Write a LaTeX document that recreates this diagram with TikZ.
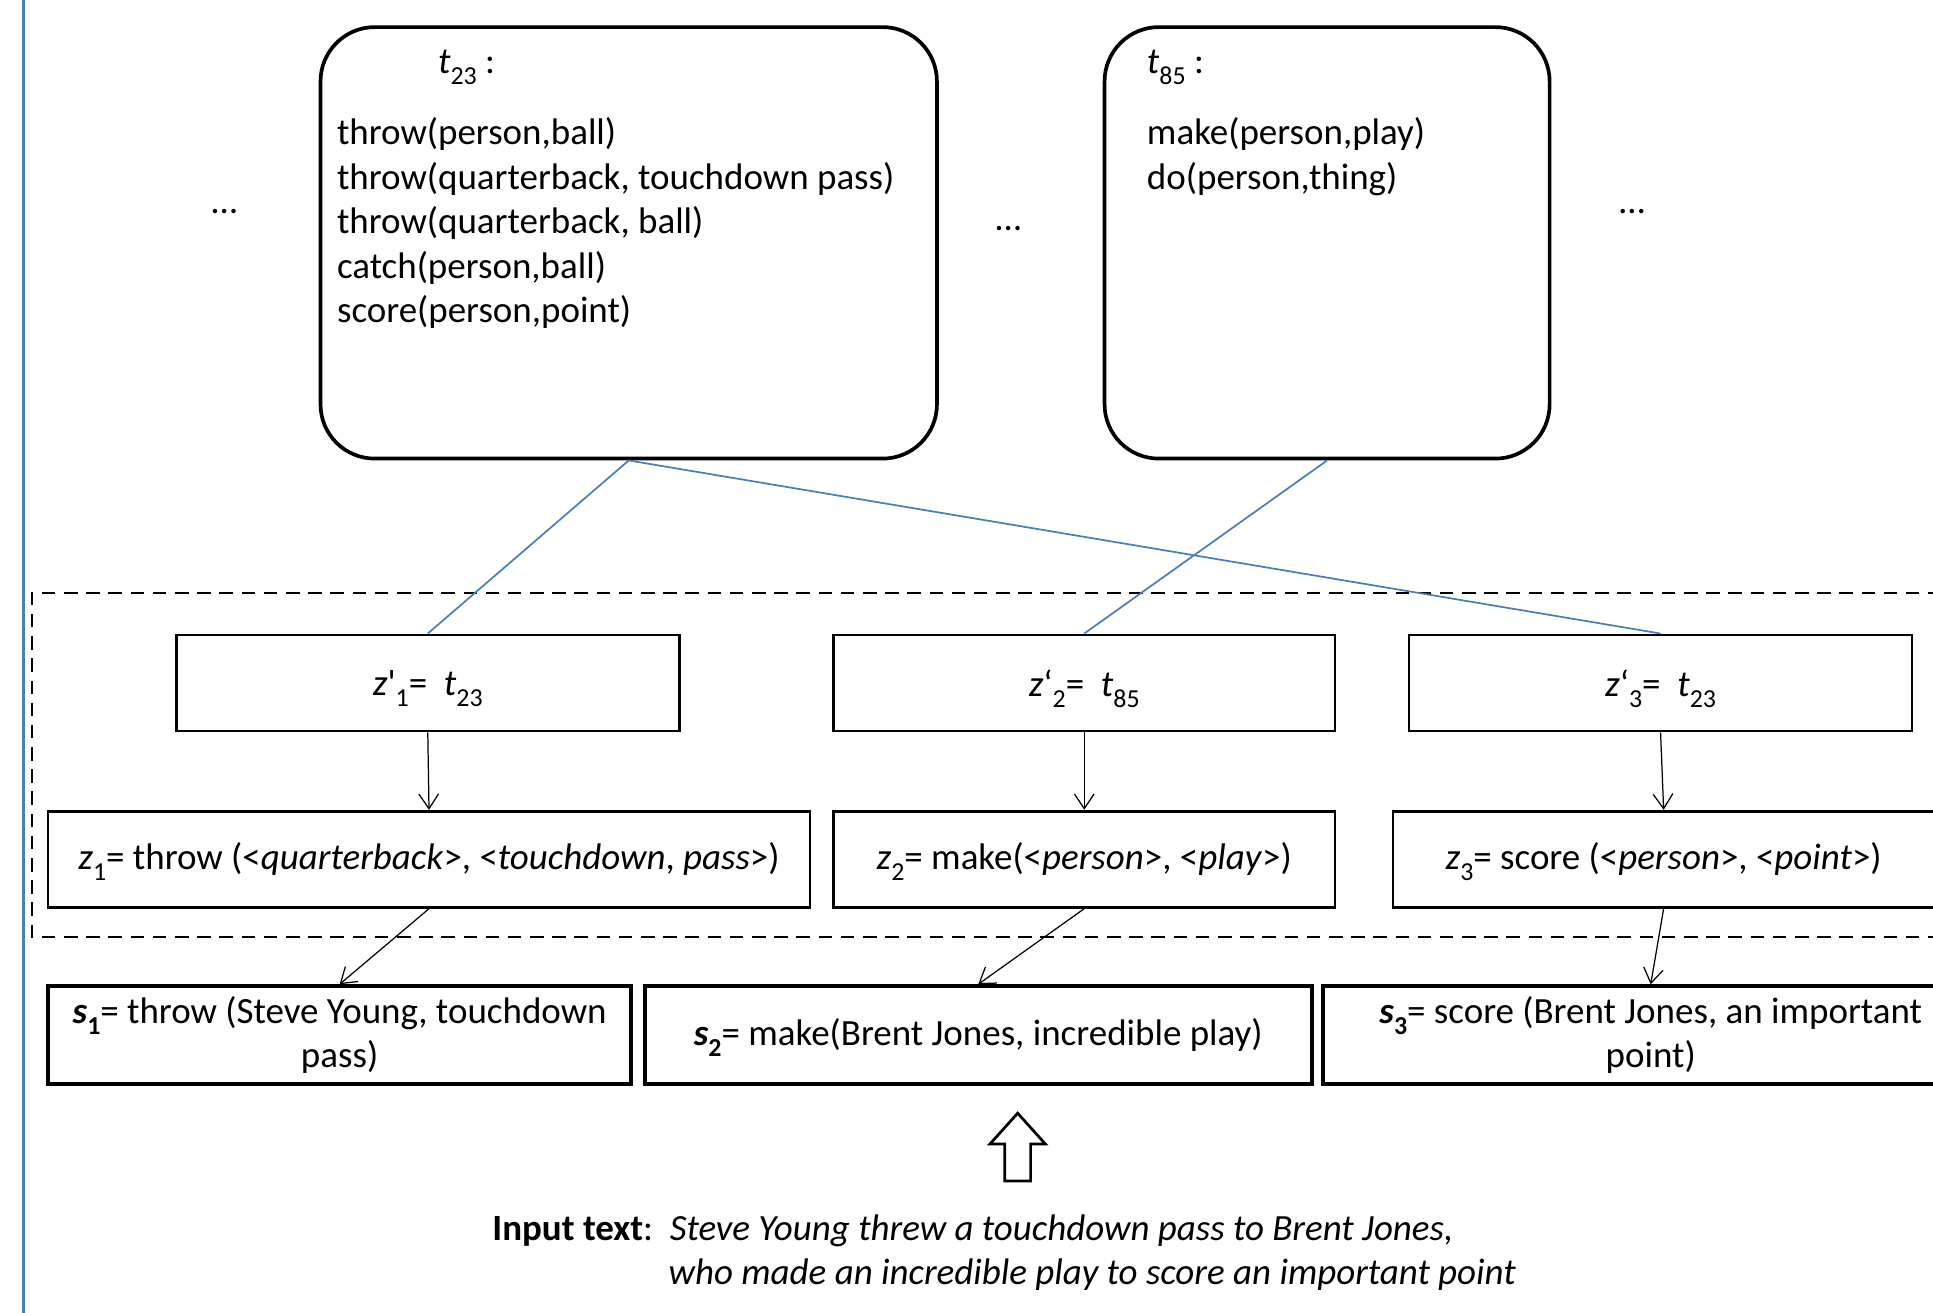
\documentclass[tikz,border=0pt]{standalone}
\usepackage{fontspec}
\setmainfont{Carlito}
\usetikzlibrary{arrows.meta}
\definecolor{accentblue}{RGB}{74,126,187}
\newcommand{\lsub}[1]{\raisebox{-0.3em}[0pt][0pt]{\fontsize{10.5}{10.5}\selectfont #1}}
\begin{document}
\begin{tikzpicture}[x=0.5pt,y=-0.5pt,
  font=\fontsize{15}{18}\selectfont,
  txt/.style={inner sep=0pt},
  tbox/.style={draw, line width=1.5pt, rounded corners=22pt, minimum height=175pt, inner sep=0pt},
  zbox/.style={draw, line width=1.1pt, minimum height=39pt, inner sep=0pt},
  sbox/.style={draw, line width=1.6pt, minimum height=39.5pt, inner sep=0pt, align=center},
  link/.style={accentblue, line width=0.7pt},
  flow/.style={line width=0.5pt, -{Straight Barb[length=6pt,width=8pt]}},
  dashbox/.style={line width=1pt, dash pattern=on 5.5pt off 3.5pt}]
\useasboundingbox (0,0) rectangle (1568,1065);
\clip (0,0) rectangle (1568,1065);
\fill[white] (0,0) rectangle (1568,1065);
% left blue rule
\draw[accentblue, line width=1pt] (19,-2) -- (19,1067);
% top rounded boxes
\node[tbox, minimum width=250pt] (t23) at (510,197) {};
\node[tbox, minimum width=180.5pt] (t85) at (1076.5,197) {};
\node[txt, anchor=west] (t23title) at (355,50) {\textit{t}\lsub{23} :};
\node[txt, anchor=west] (t85title) at (930,50) {\textit{t}\lsub{85} :};
\node[txt, anchor=west, align=left] (t23list) at (273,181) {throw(person,ball)\\throw(quarterback, touchdown pass)\\throw(quarterback, ball)\\catch(person,ball)\\score(person,point)};
\node[txt, anchor=west, align=left] (t85list) at (930,127) {make(person,play)\\do(person,thing)};
\node[txt] (dotsA) at (182,172) {…};
\node[txt] (dotsB) at (818,185) {…};
\node[txt] (dotsC) at (1324,172) {…};
% dashed region
\draw[dashbox] (1575,481) -- (26,481) -- (26,760) -- (1575,760);
% z' row
\node[zbox, minimum width=204pt] (zp1) at (347,554) {\textit{z}\textquotesingle\lsub{1}=~~\textit{t}\lsub{23}};
\node[zbox, minimum width=203.5pt] (zp2) at (879.5,554) {\textit{z}\textquoteleft\lsub{2}=~~\textit{t}\lsub{85}};
\node[zbox, minimum width=204pt] (zp3) at (1347,554) {\textit{z}\textquoteleft\lsub{3}=~~\textit{t}\lsub{23}};
% z row
\node[zbox, minimum width=309pt] (z1) at (348,697) {\textit{z}\lsub{1}= throw (<\textit{quarterback}>, <\textit{touchdown}, \textit{pass}>)};
\node[zbox, minimum width=203.5pt] (z2) at (879.5,697) {\textit{z}\lsub{2}= make(<\textit{person}>, <\textit{play}>)};
\node[zbox, minimum width=219.5pt] (z3) at (1349.5,697) {\textit{z}\lsub{3}= score (<\textit{person}>, <\textit{point}>)};
% s row
\node[sbox, minimum width=236.5pt] (s1) at (275.5,839.5) {\textbf{\textit{s}\lsub{1}}= throw (Steve Young, touchdown\\pass)};
\node[sbox, minimum width=270.5pt] (s2) at (793.5,839.5) {\textbf{\textit{s}\lsub{2}}= make(Brent Jones, incredible play)};
\node[sbox, minimum width=266pt] (s3) at (1339,839.5) {\textbf{\textit{s}\lsub{3}}= score (Brent Jones, an important\\point)};
% blue links
\draw[link] (t23.south) -- (zp1.north);
\draw[link] (t23.south) -- (zp3.north);
\draw[link] (t85.south) -- (zp2.north);
% arrows
\draw[flow] (zp1.south) -- (z1.north);
\draw[flow] (zp2.south) -- (z2.north);
\draw[flow] (zp3.south) -- (z3.north);
\draw[flow] (z1.south) -- (s1.north);
\draw[flow] (z2.south) -- (s2.north);
\draw[flow] (z3.south) -- (s3.north);
% hollow up arrow
\draw[line width=1.1pt, line join=miter] (815,958) -- (815,928) -- (803,928) -- (825.5,903) -- (848,928) -- (836,928) -- (836,958) -- cycle;
% input text
\node[txt, anchor=west] (inp1) at (399,998) {\textbf{Input text}:~~\textit{Steve Young threw a touchdown pass to Brent Jones,}};
\node[txt, anchor=west] (inp2) at (542,1034) {\textit{who made an incredible play to score an important point}};
\end{tikzpicture}
\end{document}
